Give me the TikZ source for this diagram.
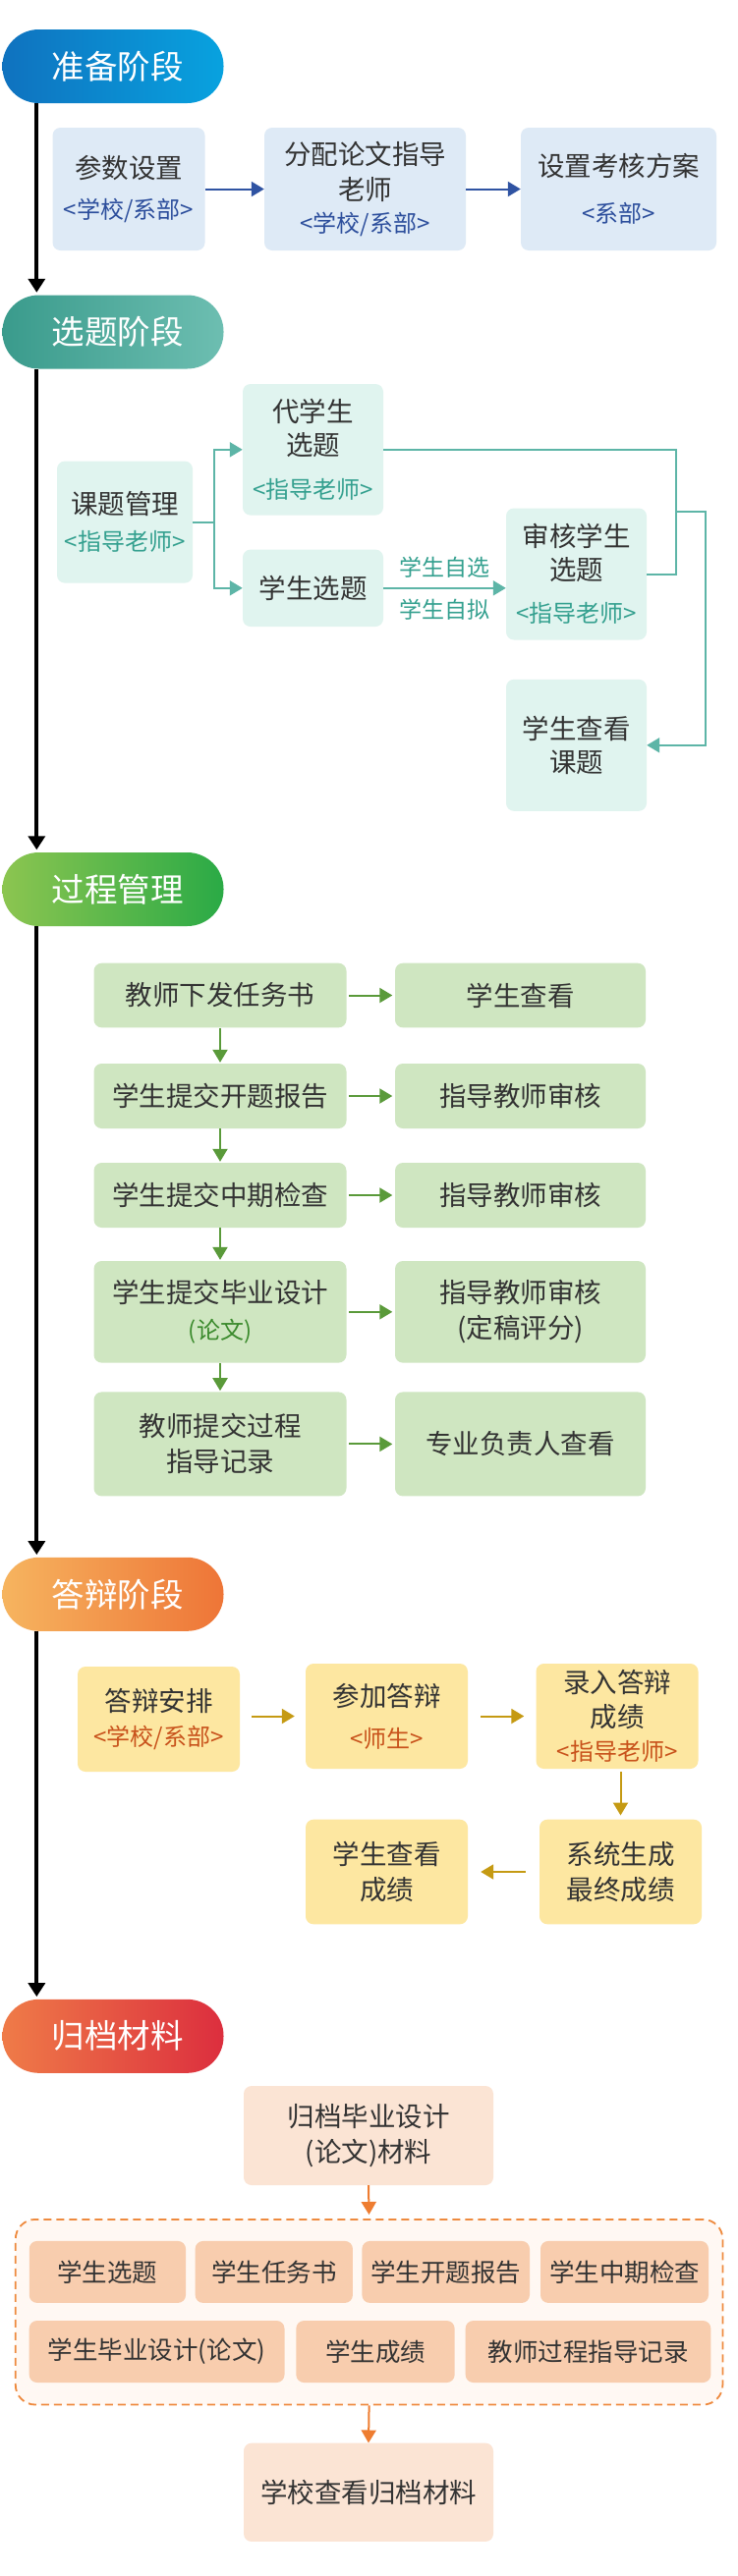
\documentclass[tikz,border=0pt]{standalone}
\usepackage{fontspec}
\setmainfont{Noto Sans CJK SC}
\usetikzlibrary{arrows.meta}
\definecolor{ink}{HTML}{333333}
\definecolor{bluel}{HTML}{0F72BF}
\definecolor{bluer}{HTML}{08A2DF}
\definecolor{bluebox}{HTML}{DEEAF6}
\definecolor{bluetxt}{HTML}{2C4E9C}
\definecolor{bluearr}{HTML}{2F53A2}
\definecolor{teall}{HTML}{3A9B8C}
\definecolor{tealr}{HTML}{6DBEB1}
\definecolor{tealbox}{HTML}{E0F4EF}
\definecolor{tealtxt}{HTML}{34A08F}
\definecolor{tealln}{HTML}{5DB5A7}
\definecolor{greenl}{HTML}{8CC550}
\definecolor{greenr}{HTML}{2AAA46}
\definecolor{greenbox}{HTML}{CFE6C1}
\definecolor{greentxt}{HTML}{3A8A2C}
\definecolor{greenarr}{HTML}{5A9A3A}
\definecolor{orangel}{HTML}{F6B45F}
\definecolor{oranger}{HTML}{EE7537}
\definecolor{yellowbox}{HTML}{FDE7A1}
\definecolor{orangetxt}{HTML}{C8521B}
\definecolor{goldarr}{HTML}{C59A13}
\definecolor{redl}{HTML}{EF7B48}
\definecolor{redr}{HTML}{DC2E3E}
\definecolor{peachbox}{HTML}{FBE4D4}
\definecolor{peachrow}{HTML}{F8CDAE}
\definecolor{peachbg}{HTML}{FFF8F3}
\definecolor{orangeln}{HTML}{EE8A3E}
\definecolor{orangearr}{HTML}{EE7D31}
\newcommand\role[2]{\textcolor{#1}{\fontsize{24}{30}\selectfont #2}}

\begin{document}
\begin{tikzpicture}[x=1pt, y=-1pt,
    pill/.style={rounded corners=37pt, minimum width=225pt, minimum height=75pt, inner sep=0pt, text=white, font=\fontsize{33.5}{40}\selectfont},
    box/.style={rounded corners=8pt, inner sep=0pt, align=center, text=ink, font=\fontsize{27.5}{36}\selectfont},
    wh/.style 2 args={minimum width=#1pt, minimum height=#2pt},
    spine/.style={line width=3.8pt, -{Triangle[length=14pt,width=17pt]}, shorten >=2.5pt},
    link/.style={line width=2pt, -{Triangle[length=13pt,width=15pt]}},
    lbl/.style={font=\fontsize{23}{28}\selectfont, text=tealtxt, inner sep=0pt}]
    \fill[white] (0,0) rectangle (750,2623);

    \node[pill, left color=bluel, right color=bluer] (p1) at (115,67.5) {\hspace*{9pt}准备阶段};
    \node[box, fill=bluebox, wh={155}{125}] (a1) at (131,192.5) {参数设置\\[5.6pt]\role{bluetxt}{<学校/系部>}};
    \node[box, fill=bluebox, wh={205}{125}] (a2) at (371.5,192.5) {分配论文指导\\老师\\[-2.4pt]\role{bluetxt}{<学校/系部>}};
    \node[box, fill=bluebox, wh={199}{125}] (a3) at (629.5,192.5) {设置考核方案\\[10.6pt]\role{bluetxt}{<系部>}};
    \draw[link, bluearr] (a1.east) -- (a2.west);
    \draw[link, bluearr] (a2.east) -- (a3.west);

    \node[pill, left color=teall, right color=tealr] (p2) at (115,338) {\hspace*{9pt}选题阶段};
    \node[box, fill=tealbox, wh={138}{124}] (b1) at (127,531.6) {课题管理\\[1pt]\role{tealtxt}{<指导老师>}};
    \node[box, fill=tealbox, wh={143}{133.6}] (b2) at (318.5,457.8) {代学生\\[-2pt]选题\\[7.6pt]\role{tealtxt}{<指导老师>}};
    \node[box, fill=tealbox, wh={143}{78.4}] (b3) at (318.5,598.8) {学生选题};
    \node[box, fill=tealbox, wh={143}{134}] (b4) at (586.5,584.5) {审核学生\\[-2pt]选题\\[6.6pt]\role{tealtxt}{<指导老师>}};
    \node[box, fill=tealbox, wh={143}{134}] (b5) at (586.5,758.8) {学生查看\\[-1.5pt]课题};
    \coordinate (fork) at (217.7,531.6);
    \coordinate (merge) at (688,521);
    \draw[link, tealln] (b1.east) -- (fork) |- (b2.west);
    \draw[link, tealln] (fork) |- (b3.west);
    \draw[line width=2pt, tealln] (b2.east) -| (merge);
    \draw[line width=2pt, tealln] (b4.east) -| (merge);
    \draw[link, tealln] (merge) -- ++(29.7,0) |- (b5.east);
    \draw[link, tealln] (b3.east) -- (b3.east -| b4.west)
        node[lbl, midway, yshift=21.4pt] {学生自选}
        node[lbl, midway, yshift=-22pt] {学生自拟};

    \node[pill, left color=greenl, right color=greenr] (p3) at (115,905.5) {\hspace*{9pt}过程管理};
    \node[box, fill=greenbox, wh={257}{65.6}] (c1) at (224,1013.5) {教师下发任务书};
    \node[box, fill=greenbox, wh={257}{66}] (c2) at (224,1116) {学生提交开题报告};
    \node[box, fill=greenbox, wh={257}{66}] (c3) at (224,1217) {学生提交中期检查};
    \node[box, fill=greenbox, wh={257}{103.6}] (c4) at (224,1335.8) {学生提交毕业设计\\[1.6pt]\role{greentxt}{(论文)}};
    \node[box, fill=greenbox, wh={257}{106}] (c5) at (224,1470.4) {教师提交过程\\指导记录};
    \node[box, fill=greenbox, wh={255}{65.6}] (d1) at (529.5,1013.5) {学生查看};
    \node[box, fill=greenbox, wh={255}{66}] (d2) at (529.5,1116) {指导教师审核};
    \node[box, fill=greenbox, wh={255}{66}] (d3) at (529.5,1217) {指导教师审核};
    \node[box, fill=greenbox, wh={255}{103.6}] (d4) at (529.5,1335.8) {指导教师审核\\(定稿评分)};
    \node[box, fill=greenbox, wh={255}{106}] (d5) at (529.5,1470.4) {专业负责人查看};
    \foreach \i/\j in {1/2,2/3,3/4,4/5}
        \draw[link, greenarr, shorten >=1pt] (c\i.south) -- (c\j.north);
    \foreach \i in {1,...,5}
        \draw[link, greenarr, shorten <=2.5pt, shorten >=2.5pt] (c\i.east) -- (d\i.west);

    \node[pill, left color=orangel, right color=oranger] (p4) at (115,1623.3) {\hspace*{9pt}答辩阶段};
    \node[box, fill=yellowbox, wh={165}{107}] (e1) at (161.5,1750.5) {答辩安排\\[-1.8pt]\role{orangetxt}{<学校/系部>}};
    \node[box, fill=yellowbox, wh={165}{107}] (e2) at (393.5,1747.5) {参加答辩\\[5.9pt]\role{orangetxt}{<师生>}};
    \node[box, fill=yellowbox, wh={165}{107}] (e3) at (628,1747.5) {录入答辩\\[-1pt]成绩\\[-1.4pt]\role{orangetxt}{<指导老师>}};
    \node[box, fill=yellowbox, wh={165}{106.6}] (e4) at (631.5,1906) {系统生成\\最终成绩};
    \node[box, fill=yellowbox, wh={165}{106.6}] (e5) at (393.5,1906) {学生查看\\成绩};
    \draw[link, goldarr, shorten <=12pt, shorten >=11pt] (e2.west -| e1.east) -- (e2.west);
    \draw[link, goldarr, shorten <=13pt, shorten >=12pt] (e2.east) -- (e3.west);
    \draw[link, goldarr, shorten <=3pt, shorten >=4pt] (e4.north |- e3.south) -- (e4.north);
    \draw[link, goldarr, shorten <=14pt, shorten >=13pt] (e4.west) -- (e5.east);

    \node[pill, left color=redl, right color=redr] (p5) at (115,2073.3) {\hspace*{9pt}归档材料};
    \node[box, fill=peachbox, wh={254}{101}] (f1) at (375,2174.5) {归档毕业设计\\(论文)材料};
    \node[draw=orangeln, fill=peachbg, dash pattern=on 8pt off 5pt, line width=1.8pt, rounded corners=20pt, inner sep=0pt, wh={719.6}{188.6}] (g) at (375.6,2354.2) {};
    \begin{scope}[every node/.append style={box, fill=peachrow, font=\fontsize{25.5}{32}\selectfont}]
        \node[wh={159.3}{63}] (h1) at (109.4,2313.4) {学生选题};
        \node[wh={160.3}{63}] (h2) at (278.8,2313.4) {学生任务书};
        \node[wh={170.6}{63}] (h3) at (453.7,2313.4) {学生开题报告};
        \node[wh={171}{63}] (h4) at (635.5,2313.4) {学生中期检查};
        \node[wh={259.8}{63}] (h5) at (159.6,2394.5) {学生毕业设计(论文)};
        \node[wh={161.3}{63}] (h6) at (382,2394.5) {学生成绩};
        \node[wh={249.7}{63}] (h7) at (598.5,2394.5) {教师过程指导记录};
    \end{scope}
    \node[box, fill=peachbox, wh={254}{100.3}] (f2) at (375,2537.8) {学校查看归档材料};
    \draw[link, orangearr, shorten >=4pt] (f1.south) -- (g.north);
    \draw[link, orangearr] (g.south) -- (f2.north);

    \foreach \a/\b in {p1/p2,p2/p3,p3/p4,p4/p5}
        \draw[spine] ([xshift=35pt]\a.south west) -- ([xshift=35pt]\b.north west);
\end{tikzpicture}
\end{document}
